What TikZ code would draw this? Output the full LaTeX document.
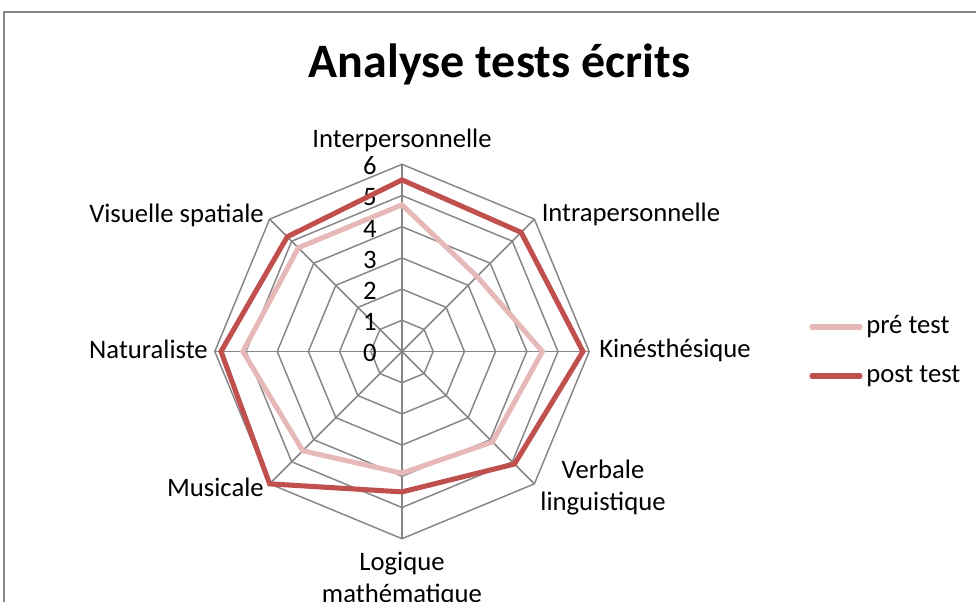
\documentclass[tikz,border=0pt]{standalone}
\usepackage{fontspec}
\setmainfont{Carlito}
\usetikzlibrary{positioning}
\definecolor{gridgrey}{HTML}{868686}
\definecolor{postred}{HTML}{C0504D}
\definecolor{prepink}{HTML}{E6B9B8}
\newcommand{\ustep}{31.2}

\begin{document}
\begin{tikzpicture}[x=0.75pt, y=0.75pt,
  every node/.style={align=center, inner sep=0pt, font=\fontsize{20}{24}\selectfont},
  gridline/.style={draw=gridgrey, line width=1.1pt, line join=miter},
  preline/.style={draw=prepink, line width=3.8pt, line join=miter},
  postline/.style={draw=postred, line width=3.8pt, line join=miter}]
\useasboundingbox (0,0) rectangle (976,602);

% Frame and title
\draw[gridgrey, line width=1.1pt] (4,-4) -- (4,590) -- (980,590);
\node (title) [anchor=base] at (499.5,524) {\fontsize{36}{40}\selectfont\bfseries Analyse tests écrits};

\begin{scope}[shift={(402,250.5)}]
  % Grid
  \foreach \v in {1,...,6}
    \draw[gridline] (90:{\v*\ustep}) \foreach \i in {1,...,7} { -- ({90-45*\i}:{\v*\ustep}) } -- cycle;
  \foreach \i in {0,...,7}
    \draw[gridline] (0,0) -- ({90-45*\i}:{6*\ustep});

  % Scale
  \foreach \v in {0,...,6}
    \node (tick\v) [anchor=base east] at (-25,{\v*\ustep-10.5}) {\v};

  % Series
  \draw[preline] (90:{4.7*\ustep}) -- (45:{3.4*\ustep}) -- (0:{4.5*\ustep}) -- (-45:{4.1*\ustep})
    -- (-90:{3.9*\ustep}) -- (-135:{4.5*\ustep}) -- (180:{5.1*\ustep}) -- (135:{4.7*\ustep}) -- cycle;
  \draw[postline] (90:{5.5*\ustep}) -- (45:{5.4*\ustep}) -- (0:{5.8*\ustep}) -- (-45:{5.1*\ustep})
    -- (-90:{4.5*\ustep}) -- (-135:{6*\ustep}) -- (180:{5.8*\ustep}) -- (135:{5.2*\ustep}) -- cycle;
\end{scope}

% Axis labels
\node (inter) [anchor=base] at (402,454.5) {Interpersonnelle};
\node (intra) [anchor=base west] at (541.5,380.3) {Intrapersonnelle};
\node (kine) [anchor=base west] at (599,244.3) {Kinésthésique};
\node (verb) [anchor=base] at (603,91) {Verbale\\linguistique};
\node (logi) [anchor=base] at (402,-0.5) {Logique\\mathématique};
\node (musi) [anchor=base east] at (264,105) {Musicale};
\node (natu) [anchor=base east] at (208,243.7) {Naturaliste};
\node (visu) [anchor=base east] at (264,379.7) {Visuelle spatiale};

% Legend
\coordinate (prekey) at (812,275);
\coordinate (postkey) at (812,226);
\node (prelabel) [anchor=west] at (866,275) {pré test};
\node (postlabel) [anchor=west] at (866,226) {post test};
\draw[preline, line cap=round] (prekey) -- ([xshift=-4.5]prelabel.west);
\draw[postline, line cap=round] (postkey) -- ([xshift=-4.5]postlabel.west);
\end{tikzpicture}
\end{document}
